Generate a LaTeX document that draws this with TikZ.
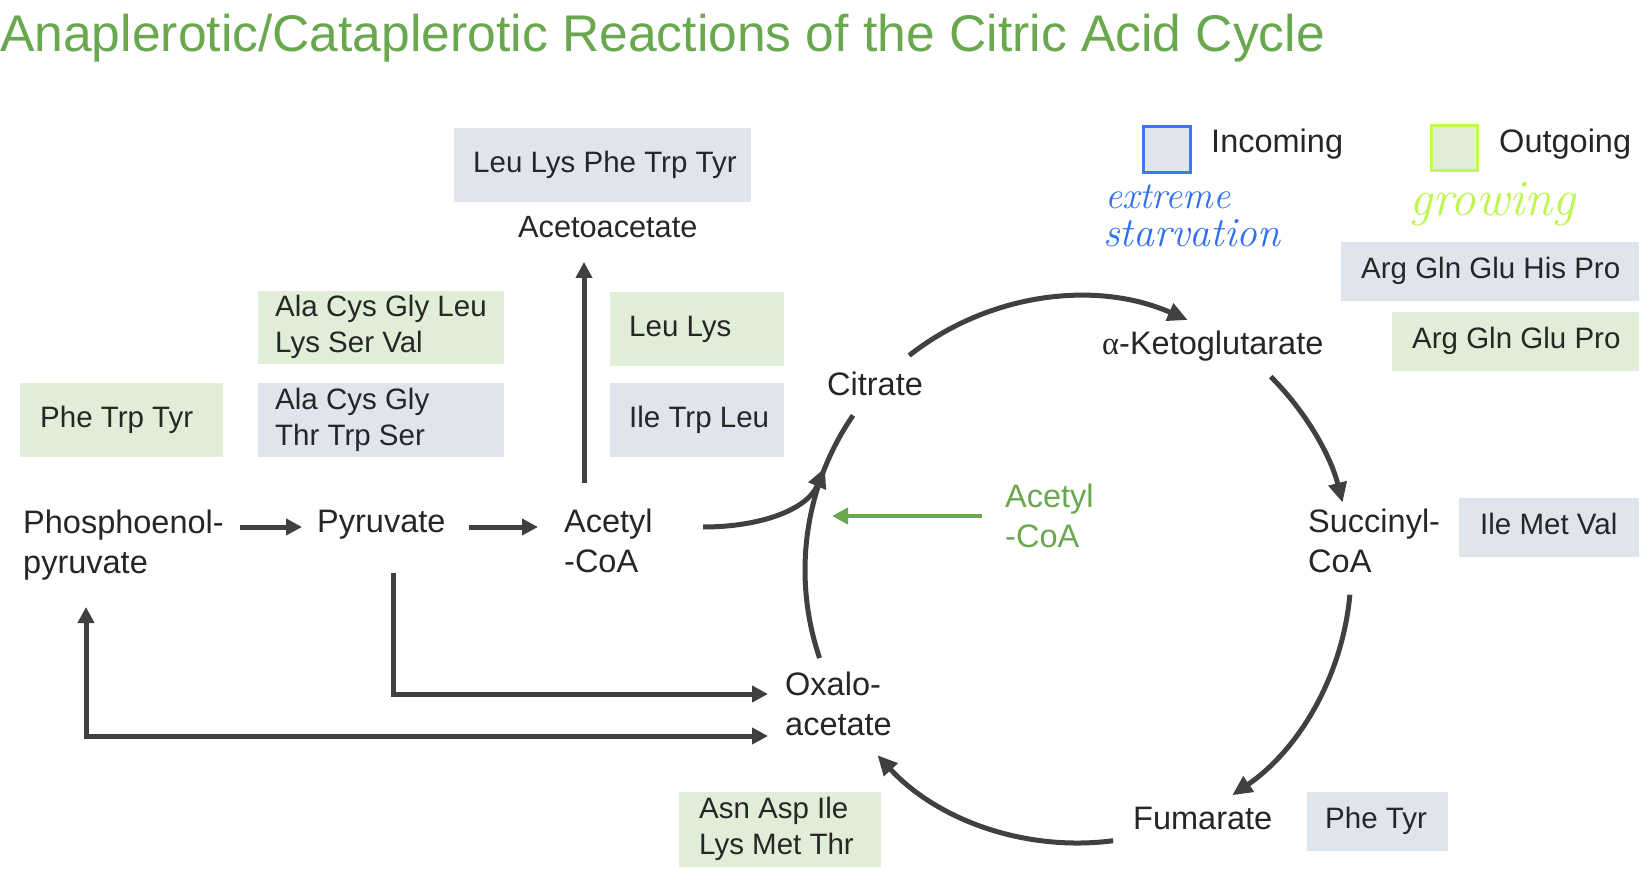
\documentclass[tikz,border=0pt]{standalone}
\usepackage{fontspec}
\setmainfont{Liberation Sans}
\newfontfamily\alphafont{Liberation Serif}
\usetikzlibrary{arrows.meta}
\definecolor{ink}{RGB}{38,38,38}
\definecolor{arr}{RGB}{64,64,64}
\definecolor{ttl}{RGB}{106,168,79}
\definecolor{incf}{RGB}{223,228,237}
\definecolor{outf}{RGB}{224,238,215}
\definecolor{incl}{RGB}{60,120,240}
\definecolor{outl}{RGB}{190,250,80}
\definecolor{hblue}{RGB}{48,112,240}
\definecolor{hlime}{RGB}{190,245,80}
\newcommand\onel[1]{\begin{tabular}[t]{@{}l@{}}#1\end{tabular}}
\newcommand\twol[2]{\begin{tabular}[t]{@{}l@{}}#1\\#2\end{tabular}}
\newcommand\bxt[3]{\makebox[#1][l]{\hspace*{#2}#3}}
\newcommand\handfnt[1]{\fontfamily{lmr}\fontshape{it}\fontsize{#1}{#1}\selectfont}
\tikzset{
  lbl/.style={font=\fontsize{32.5}{40}\selectfont, text=ink, inner sep=0pt, anchor=base west},
  boxbase/.style={font=\fontsize{29.5}{36}\selectfont, text=ink, inner sep=0pt, anchor=north west},
  inbox/.style={boxbase, fill=incf},
  outbox/.style={boxbase, fill=outf},
  arw/.style={draw=arr, line width=5pt, -{Triangle[length=16pt,width=16pt]}},
  cyc/.style={draw=arr, line width=5pt, -{Triangle[length=20pt,width=18pt]}},
  cycplain/.style={draw=arr, line width=5pt},
  hand/.style={inner sep=0pt, anchor=base west}
}
\begin{document}
\begin{tikzpicture}[x=1pt,y=1pt]
\useasboundingbox (0,0) rectangle (1648,-874);

% title
\node[font=\fontsize{51.6}{60}\selectfont, text=ttl, inner sep=0pt, anchor=base west] (title) at (0,-52) {Anaplerotic/Cataplerotic Reactions of the Citric Acid Cycle};

% boxes
\node[inbox, minimum width=297pt, minimum height=74pt] (bTop) at (454,-128) {\bxt{297pt}{19pt}{\onel{Leu Lys Phe Trp Tyr}}};
\node[outbox, minimum width=246pt, minimum height=73pt] (bAlaOut) at (258,-291) {\bxt{246pt}{17pt}{\twol{Ala Cys Gly Leu}{Lys Ser Val}}};
\node[inbox, minimum width=246pt, minimum height=74pt] (bAlaIn) at (258,-383) {\bxt{246pt}{17pt}{\twol{Ala Cys Gly}{Thr Trp Ser}}};
\node[outbox, minimum width=203pt, minimum height=74pt] (bPheOut) at (20,-383) {\bxt{203pt}{20pt}{\onel{Phe Trp Tyr}}};
\node[outbox, minimum width=174pt, minimum height=74pt] (bLeuLys) at (610,-292) {\bxt{174pt}{19pt}{\onel{Leu Lys}}};
\node[inbox, minimum width=174pt, minimum height=74pt] (bIle) at (610,-383) {\bxt{174pt}{19pt}{\onel{Ile Trp Leu}}};
\node[inbox, minimum width=298pt, minimum height=59pt] (bArgIn) at (1341,-242) {\bxt{298pt}{20pt}{\onel{Arg Gln Glu His Pro}}};
\node[outbox, minimum width=247pt, minimum height=59pt] (bArgOut) at (1392,-312) {\bxt{247pt}{20pt}{\onel{Arg Gln Glu Pro}}};
\node[inbox, minimum width=180pt, minimum height=59pt] (bImv) at (1459,-498) {\bxt{180pt}{21pt}{\onel{Ile Met Val}}};
\node[inbox, minimum width=141pt, minimum height=59pt] (bPheTyr) at (1307,-792) {\bxt{141pt}{18pt}{\onel{Phe Tyr}}};
\node[outbox, minimum width=202pt, minimum height=75pt] (bAsn) at (679,-792) {\bxt{202pt}{20pt}{\twol{Asn Asp Ile}{Lys Met Thr}}};

% metabolite labels
\node[lbl, font=\fontsize{30.7}{40}\selectfont] (aceto) at (518,-238) {Acetoacetate};
\node[lbl] (pep) at (23,-533) {\twol{Phosphoenol-}{pyruvate}};
\node[lbl] (pyr) at (317,-532) {Pyruvate};
\node[lbl] (acoa) at (564,-532) {\twol{Acetyl}{-CoA}};
\node[lbl] (cit) at (827,-395) {Citrate};
\node[lbl] (akg) at (1102,-354) {{\alphafont α}-Ketoglutarate};
\node[lbl] (succ) at (1308,-532) {\twol{Succinyl-}{CoA}};
\node[lbl] (fum) at (1133,-829) {Fumarate};
\node[lbl] (oaa) at (785,-695) {\twol{Oxalo-}{acetate}};
\node[lbl, text=ttl] (gacoa) at (1005,-507) {\twol{Acetyl}{-CoA}};

% legend
\node[draw=incl, fill=incf, line width=3pt, minimum width=47pt, minimum height=46pt, inner sep=0pt, anchor=north west] (legIn) at (1141.5,-125.5) {};
\node[draw=outl, fill=outf, line width=3pt, minimum width=46pt, minimum height=45pt, inner sep=0pt, anchor=north west] (legOut) at (1429.5,-124.5) {};
\node[lbl] (tIn) at (1211,-153) {Incoming};
\node[lbl] (tOut) at (1499,-153) {Outgoing};
\node[hand, text=hblue, font=\handfnt{38}] (hExt) at (1105,-209) {extreme};
\node[hand, text=hblue, font=\handfnt{41.5}] (hStarv) at (1103,-247) {starvation};
\node[hand, text=hlime, font=\handfnt{51}] (hGrow) at (1409,-216) {growing};

% straight connectors
\coordinate (pepR) at (240,-527);
\coordinate (pyrL) at (302,-527);
\coordinate (pyrR) at (469,-527);
\coordinate (acoaL) at (538,-527);
\coordinate (acoaT) at (584,-483);
\coordinate (acetoB) at (584,-262);
\coordinate (pyrB) at (393,-573);
\coordinate (oaaL1) at (768,-694);
\coordinate (oaaL2) at (768,-736);
\coordinate (pepB) at (86,-607);
\draw[arw] (pepR) -- (pyrL);
\draw[arw] (pyrR) -- (acoaL);
\draw[arw] (acoaT) -- (acetoB);
\draw[arw] (pyrB) |- (oaaL1);
\draw[draw=arr, line width=5pt, {Triangle[length=16pt,width=16pt]}-{Triangle[length=16pt,width=16pt]}] (pepB) |- (oaaL2);

% citric acid cycle
\coordinate (cc) at (1078,-570);
\draw[cyc] ([shift={(128.2:273)}]cc) arc[start angle=128.2, end angle=66.3, radius=273];
\draw[cyc] ([shift={(45.1:273)}]cc) arc[start angle=45.1, end angle=14.3, radius=273];
\draw[cyc] ([shift={(-5.2:273)}]cc) arc[start angle=-5.2, end angle=-55.6, radius=273];
\draw[cyc] ([shift={(-82.6:273)}]cc) arc[start angle=-82.6, end angle=-137.3, radius=273];
\draw[cycplain] ([shift={(198.8:273)}]cc) arc[start angle=198.8, end angle=145.5, radius=273];

% acetyl-CoA into cycle
\coordinate (acoaR) at (703,-527);
\coordinate (join) at ([shift={(158:273)}]cc);
\draw[cyc] (acoaR) .. controls (760,-527) and (807,-510) .. (join);

% green acetyl-CoA arrow
\coordinate (gStart) at (982,-516);
\coordinate (gEnd) at (832,-516);
\draw[draw=ttl, line width=4.5pt, -{Triangle[length=16pt,width=16pt]}] (gStart) -- (gEnd);
\end{tikzpicture}
\end{document}
